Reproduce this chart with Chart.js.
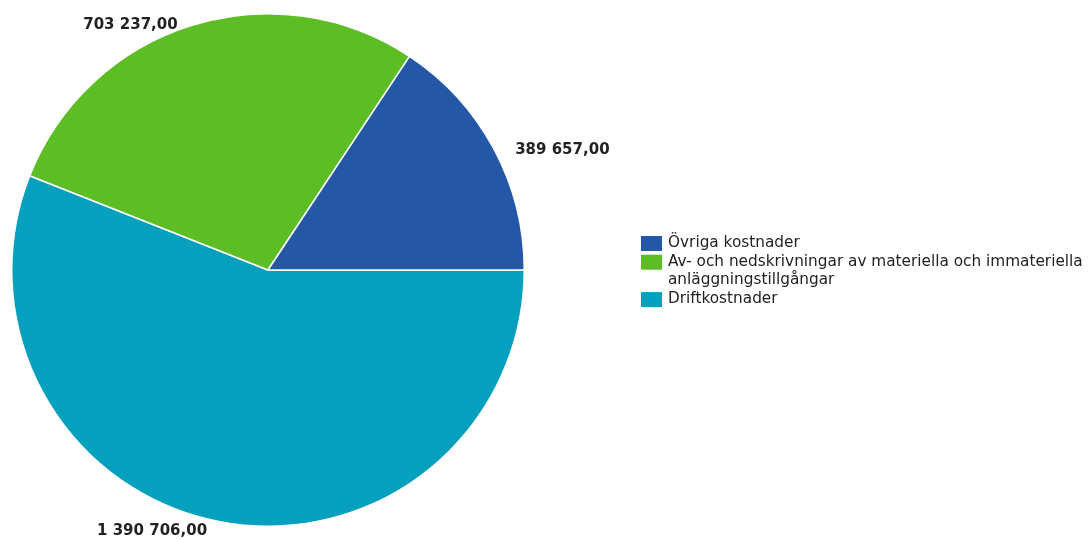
<!DOCTYPE html>
<html>
<head>
<meta charset="utf-8">
<script src="https://cdn.jsdelivr.net/npm/chart.js@4/dist/chart.umd.min.js"></script>
<style>
  html, body { margin: 0; padding: 0; background: #fff; }
  #wrap { width: 1088px; height: 540px; }
</style>
</head>
<body>
<div id="wrap"><canvas id="chart1" width="1088" height="540"></canvas></div>
<script>
// legend order (top to bottom)
const categories = [
  "Övriga kostnader",
  "Av- och nedskrivningar av materiella och immateriella anläggningstillgångar",
  "Driftkostnader",
];
const costValues = [389657, 703237, 1390706];
const sliceColors = ["#2457a6", "#5cbd25", "#04a0be"];

// pie is drawn counterclockwise from 3 o'clock, so feed it reversed
const pieLabels = categories.slice().reverse();
const pieValues = costValues.slice().reverse();
const pieColors = sliceColors.slice().reverse();

const FONT = "'DejaVu Sans', Verdana, sans-serif";

function fmt(v) {
  const s = String(Math.round(v)).replace(/\B(?=(\d{3})+(?!\d))/g, " ");
  return s + ",00";
}

function wrapText(ctx, text, maxW) {
  const words = text.split(" ");
  const lines = [];
  let cur = "";
  words.forEach((w) => {
    const t = cur ? cur + " " + w : w;
    if (ctx.measureText(t).width > maxW && cur) {
      lines.push(cur);
      cur = w;
    } else {
      cur = t;
    }
  });
  if (cur) lines.push(cur);
  return lines;
}

const outsideLabels = {
  id: "outsideLabels",
  afterDatasetsDraw(chart) {
    const ctx = chart.ctx;
    const meta = chart.getDatasetMeta(0);
    ctx.save();
    ctx.font = "bold 15px " + FONT;
    ctx.fillStyle = "#222";
    ctx.textBaseline = "middle";
    meta.data.forEach((arc, i) => {
      const p = arc.getProps(["x", "y", "startAngle", "endAngle", "outerRadius"], true);
      const mid = (p.startAngle + p.endAngle) / 2;
      const r = p.outerRadius + 5;
      const ax = p.x + Math.cos(mid) * r;
      const ay = p.y + Math.sin(mid) * r;
      const right = Math.cos(mid) >= 0;
      ctx.textAlign = right ? "left" : "right";
      ctx.fillText(fmt(pieValues[i]), ax + (right ? 17 : -12), ay + 4);
    });
    ctx.restore();
  },
};

const sideLegend = {
  id: "sideLegend",
  afterDraw(chart) {
    const ctx = chart.ctx;
    ctx.save();
    ctx.font = "15.3px " + FONT;
    ctx.textBaseline = "middle";
    ctx.textAlign = "left";
    const boxX = 641, textX = 668, lineH = 18.7;
    let y = 243;
    categories.forEach((name, i) => {
      ctx.fillStyle = sliceColors[i];
      ctx.fillRect(boxX, y - 7, 21, 15);
      ctx.fillStyle = "#222";
      const lines = wrapText(ctx, name, 1087 - textX);
      lines.forEach((ln) => {
        ctx.fillText(ln, textX, y);
        y += lineH;
      });
    });
    ctx.restore();
  },
};

const ctx = document.getElementById("chart1");
const chart = new Chart(ctx, {
  type: "pie",
  data: {
    labels: pieLabels,
    datasets: [
      {
        data: pieValues,
        backgroundColor: pieColors,
        borderColor: "#ffffff",
        borderWidth: 1.5,
      },
    ],
  },
  options: {
    responsive: false,
    animation: false,
    rotation: 90,
    layout: { padding: { left: 11, right: 563, top: 13, bottom: 13 } },
    plugins: {
      legend: { display: false },
      tooltip: { enabled: false },
    },
  },
  plugins: [outsideLabels, sideLegend],
});
</script>
</body>
</html>
